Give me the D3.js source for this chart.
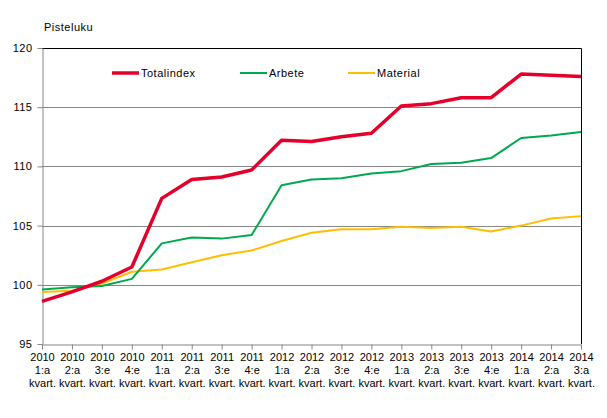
<!DOCTYPE html>
<html>
<head>
<meta charset="utf-8">
<script src="https://cdn.jsdelivr.net/npm/d3@7"></script>
<style>
  body { margin: 0; background: #fff; }
  text { font-family: "Liberation Sans", Arial, sans-serif; font-size: 11px; fill: #000; }
  .wide { letter-spacing: 0.5px; }
</style>
</head>
<body>
<svg id="chart" width="607" height="418"></svg>
<script>
const years = ["2010","2010","2010","2010","2011","2011","2011","2011","2012","2012","2012","2012","2013","2013","2013","2013","2014","2014","2014"];
const quarters = ["1:a","2:a","3:e","4:e","1:a","2:a","3:e","4:e","1:a","2:a","3:e","4:e","1:a","2:a","3:e","4:e","1:a","2:a","3:a"];

const totalindex = [98.6, 99.4, 100.3, 101.5, 107.3, 108.9, 109.1, 109.7, 112.2, 112.1, 112.5, 112.8, 115.1, 115.3, 115.8, 115.8, 117.8, 117.7, 117.6];
const arbete = [99.6, 99.8, 99.9, 100.5, 103.5, 104.0, 103.9, 104.2, 108.4, 108.9, 109.0, 109.4, 109.6, 110.2, 110.3, 110.7, 112.4, 112.6, 112.9];
const material = [99.4, 99.5, 100.1, 101.1, 101.3, 101.9, 102.5, 102.9, 103.7, 104.4, 104.7, 104.7, 104.9, 104.8, 104.9, 104.5, 105.0, 105.6, 105.8];

const yTicks = [95, 100, 105, 110, 115, 120];

const series = [
  { name: "Totalindex", values: totalindex, color: "#e4002b", width: 3.5 },
  { name: "Arbete", values: arbete, color: "#00a84f", width: 2 },
  { name: "Material", values: material, color: "#ffbe00", width: 2 }
];

const margin = { left: 42, right: 26, top: 48, bottom: 74 };
const width = 607, height = 418;
const svg = d3.select("#chart");

const x = d3.scaleLinear()
  .domain([0, years.length - 1])
  .range([margin.left, width - margin.right]);

const y = d3.scaleLinear()
  .domain([95, 120])
  .range([height - margin.bottom, margin.top]);

// gridlines
svg.append("g")
  .selectAll("line")
  .data(yTicks.filter(d => d > 95 && d < 120))
  .join("line")
  .attr("x1", x(0))
  .attr("x2", x(years.length - 1))
  .attr("y1", d => Math.round(y(d)) + 0.5)
  .attr("y2", d => Math.round(y(d)) + 0.5)
  .attr("stroke", "#868686")
  .attr("stroke-width", 1);

// top and right border
const yTop = Math.round(y(120)) + 0.5;
const xRight = Math.round(x(years.length - 1)) + 0.5;
svg.append("path")
  .attr("d", `M${x(0)},${yTop}H${xRight}V${Math.round(y(95))}`)
  .attr("fill", "none")
  .attr("stroke", "#000");

// y axis
const yAxis = svg.append("g")
  .attr("transform", `translate(${Math.round(x(0)) + 0.5},0)`)
  .call(d3.axisLeft(y).tickValues(yTicks).tickSize(5).tickPadding(5).tickSizeOuter(0));
yAxis.select(".domain").attr("stroke", "#868686");
yAxis.selectAll(".tick line").attr("stroke", "#868686");
yAxis.selectAll(".tick text")
  .attr("class", "wide")
  .attr("font-family", "Liberation Sans, Arial, sans-serif")
  .attr("font-size", 11)
  .attr("fill", "#000");

// x axis
const xAxis = svg.append("g")
  .attr("transform", `translate(0,${Math.round(y(95)) + 0.5})`)
  .call(d3.axisBottom(x).tickValues(d3.range(years.length)).tickSize(5).tickSizeOuter(0).tickFormat(""));
xAxis.select(".domain").attr("stroke", "#868686");
xAxis.selectAll(".tick line").attr("stroke", "#868686");

const labels = xAxis.selectAll(".tick text")
  .attr("font-family", "Liberation Sans, Arial, sans-serif")
  .attr("font-size", 11)
  .attr("fill", "#000")
  .attr("y", 16)
  .attr("dy", null);
labels.each(function(d) {
  const t = d3.select(this);
  [years[d], quarters[d], "kvart."].forEach((s, i) => {
    t.append("tspan").attr("x", 0).attr("dy", i === 0 ? 0 : 13).text(s);
  });
});

// lines
const line = d3.line()
  .x((d, i) => x(i))
  .y(d => y(d));

svg.append("g")
  .selectAll("path")
  .data(series.slice().reverse())
  .join("path")
  .attr("d", d => line(d.values))
  .attr("fill", "none")
  .attr("stroke", d => d.color)
  .attr("stroke-width", d => d.width)
  .attr("stroke-linejoin", "round");

// axis title
svg.append("text")
  .attr("class", "wide")
  .attr("x", 44)
  .attr("y", 31)
  .text("Pisteluku");

// legend
const legendX = [112, 240, 348];
const legend = svg.append("g")
  .selectAll("g")
  .data(series)
  .join("g")
  .attr("transform", (d, i) => `translate(${legendX[i]},73)`);
legend.append("line")
  .attr("x1", 0).attr("x2", 27)
  .attr("stroke", d => d.color)
  .attr("stroke-width", d => d.width);
legend.append("text")
  .attr("class", "wide")
  .attr("x", 29)
  .attr("dy", "0.35em")
  .text(d => d.name);
</script>
</body>
</html>
